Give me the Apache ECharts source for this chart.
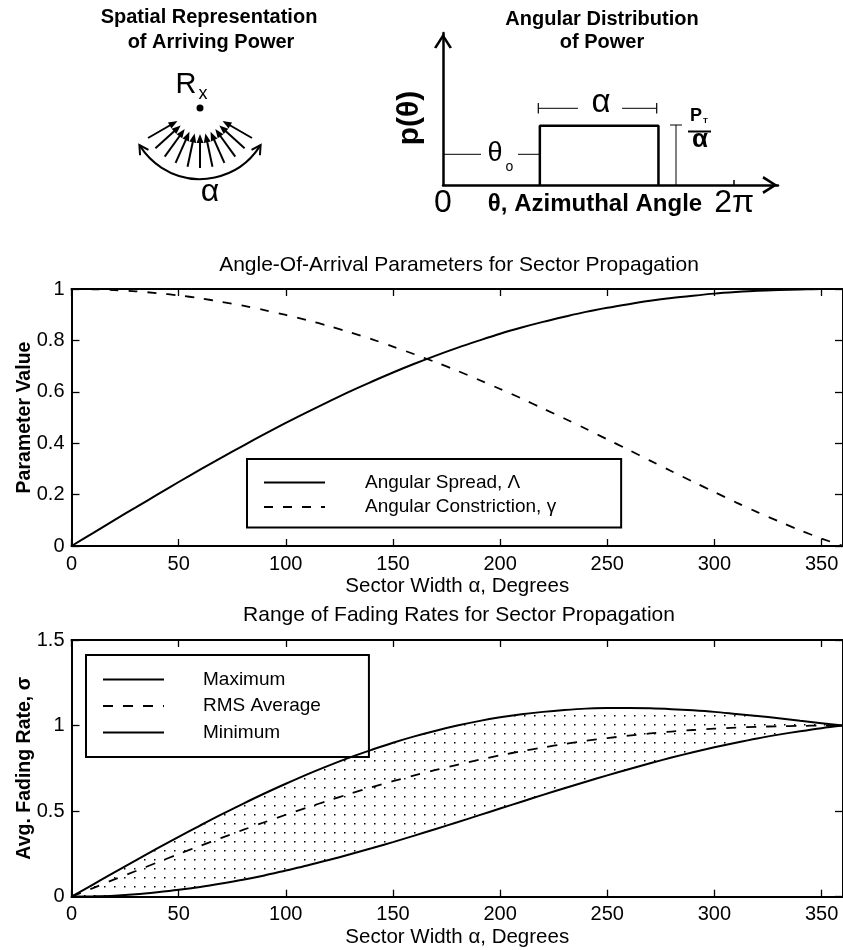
<!DOCTYPE html>
<html>
<head>
<meta charset="utf-8">
<script src="https://cdn.jsdelivr.net/npm/echarts@6/dist/echarts.min.js"></script>
<style>html,body{margin:0;padding:0;background:#fff}#c{width:843px;height:950px}</style>
</head>
<body>
<div id="c"></div>
<script>
const FONT = 'Liberation Sans, Arial, Helvetica, sans-serif';

// ---- data ----
const sectorWidth = [0,10,20,30,40,50,60,70,80,90,100,110,120,130,140,150,160,170,180,190,200,210,220,230,240,250,260,270,280,290,300,310,320,330,340,350,360];
const angularSpread = [0,0.050,0.101,0.150,0.200,0.249,0.297,0.344,0.390,0.435,0.479,0.521,0.562,0.602,0.639,0.675,0.709,0.741,0.771,0.799,0.826,0.850,0.872,0.892,0.911,0.927,0.941,0.954,0.965,0.974,0.982,0.988,0.993,0.996,0.998,1.000,1.000];
const angularConstriction = [1.000,0.999,0.996,0.991,0.984,0.975,0.964,0.950,0.935,0.918,0.899,0.879,0.856,0.831,0.805,0.776,0.746,0.715,0.682,0.647,0.611,0.574,0.535,0.496,0.456,0.415,0.374,0.332,0.291,0.250,0.210,0.170,0.132,0.096,0.061,0.029,0.000];
const fadeMax = [0,0.071,0.142,0.212,0.282,0.349,0.416,0.481,0.543,0.603,0.660,0.715,0.766,0.814,0.858,0.900,0.937,0.970,1.000,1.026,1.048,1.066,1.080,1.091,1.099,1.102,1.103,1.101,1.096,1.089,1.080,1.068,1.056,1.043,1.028,1.014,1.000];
const fadeRms = [0,0.050,0.101,0.150,0.200,0.249,0.297,0.344,0.390,0.435,0.479,0.521,0.562,0.602,0.639,0.675,0.709,0.741,0.771,0.799,0.826,0.850,0.872,0.892,0.911,0.927,0.941,0.954,0.965,0.974,0.982,0.988,0.993,0.996,0.998,1.000,1.000];
const fadeMin = [0,0.002,0.006,0.014,0.026,0.040,0.057,0.077,0.099,0.124,0.153,0.182,0.214,0.248,0.283,0.319,0.357,0.396,0.435,0.475,0.515,0.555,0.595,0.634,0.672,0.709,0.745,0.780,0.813,0.844,0.873,0.900,0.925,0.947,0.967,0.985,1.000];

// schematic p(theta): uniform sector (theta in radians, relative height)
const pdfTheta = [2.09, 2.09, 4.65, 4.65];
const pdfValue = [0, 0.39, 0.39, 0];
const pdfTickValues = [6.2832];
const pdfTickLabels = ['0', '2π'];

const xRange = [0, 360];
const xStep = 50;
const yRange1 = [0, 1];
const yStep1 = 0.2;
const yRange2 = [0, 1.5];
const yStep2 = 0.5;

const pairs = (xs, ys) => xs.map((x, i) => [x, ys[i]]);

// stipple pattern for the band
const pc = document.createElement('canvas');
pc.width = 10; pc.height = 9;
const pctx = pc.getContext('2d');
pctx.fillStyle = '#fff';
pctx.fillRect(0, 0, 10, 9);
pctx.fillStyle = '#000';
pctx.fillRect(4, 4, 1.5, 1.5);

function xAx(grid, pos, labels, name) {
  return {
    type: 'value', gridIndex: grid, position: pos, min: xRange[0], max: xRange[1], interval: xStep,
    axisLine: { show: true, onZero: false, lineStyle: { color: '#000', width: 2 } },
    axisTick: { show: true, inside: true, length: 7, lineStyle: { color: '#000', width: 1.3 } },
    axisLabel: { show: labels, color: '#000', fontSize: 20, fontFamily: FONT, margin: 8, showMaxLabel: false },
    splitLine: { show: false },
    name: labels ? name : '', nameLocation: 'middle', nameGap: 30, nameMoveOverlap: false,
    nameTextStyle: { color: '#000', fontSize: 20.5, fontFamily: FONT }
  };
}
function yAx(grid, pos, labels, range, step, name) {
  return {
    type: 'value', gridIndex: grid, position: pos, min: range[0], max: range[1], interval: step,
    axisLine: { show: true, onZero: false, lineStyle: { color: '#000', width: 2 } },
    axisTick: { show: true, inside: true, length: 8, lineStyle: { color: '#000', width: 1.3 } },
    axisLabel: { show: labels, color: '#000', fontSize: 20, fontFamily: FONT, margin: 7 },
    splitLine: { show: false },
    name: labels ? name : '', nameLocation: 'middle', nameGap: 37, nameMoveOverlap: false,
    nameTextStyle: { color: '#000', fontSize: 19.5, fontWeight: 'bold', fontFamily: FONT }
  };
}

const ARROW = 'path://M0,14 L9,0 L18,14 L15.6,15.2 L9,4.6 L2.4,15.2 Z';

// ---- decorative schematic drawings (graphic) ----
const g = [];
function txt(x, y, text, size, bold, rot) {
  g.push({ type: 'text', x: x, y: y, rotation: rot || 0, z: 100,
    style: { text: text, fontSize: size, fontFamily: FONT, fontWeight: bold ? 'bold' : 'normal', fill: '#000',
      align: 'center', verticalAlign: 'middle', textAlign: 'center', textVerticalAlign: 'middle' } });
}
function ln(x1, y1, x2, y2, w) {
  g.push({ type: 'line', z: 100, shape: { x1: x1, y1: y1, x2: x2, y2: y2 }, style: { stroke: '#000', lineWidth: w } });
}
// left panel
txt(209, 17, 'Spatial Representation', 20, true);
txt(211, 42, 'of Arriving Power', 20, true);
txt(186, 85, 'R', 29, false);
txt(203, 94, 'x', 18, false);
g.push({ type: 'circle', z: 100, shape: { cx: 200, cy: 108, r: 3.5 }, style: { fill: '#000' } });
const cx = 200, cy = 108;
for (let i = 0; i < 11; i++) {
  const a = (-60 + 12 * i) * Math.PI / 180;
  const dx = Math.sin(a), dy = Math.cos(a);
  const px = Math.cos(a), py = -Math.sin(a);
  ln(cx + 60 * dx, cy + 60 * dy, cx + 34 * dx, cy + 34 * dy, 2);
  const tx = cx + 26 * dx, ty = cy + 26 * dy, bx = cx + 35 * dx, by = cy + 35 * dy;
  g.push({ type: 'polygon', z: 100, shape: { points: [[tx, ty], [bx + 3.5 * px, by + 3.5 * py], [bx - 3.5 * px, by - 3.5 * py]] }, style: { fill: '#000' } });
}
const R = 71, half = 57 * Math.PI / 180;
g.push({ type: 'arc', z: 100, shape: { cx: cx, cy: cy, r: R, startAngle: Math.PI / 2 - half, endAngle: Math.PI / 2 + half, clockwise: true }, style: { stroke: '#000', fill: null, lineWidth: 2 } });
[Math.PI / 2 + half, Math.PI / 2 - half].forEach((phi, k) => {
  const P = [cx + R * Math.cos(phi), cy + R * Math.sin(phi)];
  const t = k === 0 ? [-Math.sin(phi), Math.cos(phi)] : [Math.sin(phi), -Math.cos(phi)];
  const n = [Math.cos(phi), Math.sin(phi)];
  const tip = [P[0] + 2 * t[0], P[1] + 2 * t[1]];
  g.push({ type: 'polyline', z: 100, shape: { points: [
    [tip[0] - 9 * t[0] + 5 * n[0], tip[1] - 9 * t[1] + 5 * n[1]], tip,
    [tip[0] - 9 * t[0] - 5 * n[0], tip[1] - 9 * t[1] - 5 * n[1]]] }, style: { stroke: '#000', lineWidth: 2, fill: null } });
});
txt(210, 192, 'α', 32, false);
// right panel annotations
txt(602, 19, 'Angular Distribution', 20, true);
txt(602, 42, 'of Power', 20, true);
txt(410, 118, 'p(θ)', 30, true, Math.PI / 2);
ln(443, 154.3, 481, 154.3, 1);
ln(518, 154.3, 540, 154.3, 1);
txt(495, 154, 'θ', 27, false);
txt(509.5, 167.5, 'o', 14, false);
ln(538.3, 103, 538.3, 113.5, 1.2);
ln(656.7, 103, 656.7, 113.5, 1.2);
ln(538.3, 108.3, 578, 108.3, 1);
ln(622, 108.3, 656.7, 108.3, 1);
txt(601, 103, 'α', 33, false);
ln(676, 125, 676, 185, 1);
ln(670, 125, 682, 125, 1);
txt(696, 116.5, 'P', 18, true);
txt(705.5, 121, 'T', 8, true);
ln(688, 131.5, 711, 131.5, 2);
txt(700, 140, 'α', 26, true);
txt(595, 204, 'θ, Azimuthal Angle', 24, true);

const option = {
  backgroundColor: '#fff',
  animation: false,
  title: [
    { text: 'Angle-Of-Arrival Parameters for Sector Propagation', left: 459, top: 255, textAlign: 'center', padding: 0,
      textStyle: { fontSize: 21, fontWeight: 'normal', color: '#000', fontFamily: FONT } },
    { text: 'Range of Fading Rates for Sector Propagation', left: 459, top: 605, textAlign: 'center', padding: 0,
      textStyle: { fontSize: 21, fontWeight: 'normal', color: '#000', fontFamily: FONT } }
  ],
  legend: [
    { data: ['Angular Spread, Λ', 'Angular Constriction, γ'], orient: 'vertical', left: 247, top: 459,
      padding: [14, 65, 11, 16], itemWidth: 61, itemHeight: 20, itemGap: 5.5,
      borderColor: '#000', borderWidth: 2, backgroundColor: '#fff', borderRadius: 0,
      itemStyle: { opacity: 0 }, selectedMode: false,
      textStyle: { fontSize: 19, color: '#000', fontFamily: FONT, padding: [0, 0, 0, 35] } },
    { data: ['Maximum', 'RMS Average', 'Minimum'], orient: 'vertical', left: 86, top: 655,
      padding: [15, 48, 15, 16], itemWidth: 61, itemHeight: 20, itemGap: 7.5,
      borderColor: '#000', borderWidth: 2, backgroundColor: '#fff', borderRadius: 0,
      itemStyle: { opacity: 0 }, selectedMode: false,
      textStyle: { fontSize: 19, color: '#000', fontFamily: FONT, padding: [0, 0, 0, 34] } }
  ],
  grid: [
    { left: 71.5, top: 289, width: 774.5, height: 257 },
    { left: 71.5, top: 640, width: 774.5, height: 256.7 },
    { left: 443, top: 33, width: 335, height: 152 }
  ],
  xAxis: [
    xAx(0, 'bottom', true, 'Sector Width α, Degrees'),
    xAx(0, 'top', false, ''),
    xAx(1, 'bottom', true, 'Sector Width α, Degrees'),
    xAx(1, 'top', false, ''),
    { type: 'value', gridIndex: 2, min: 0, max: 7.23,
      axisLine: { show: true, onZero: false, lineStyle: { color: '#000', width: 2.5 }, symbol: ['none', ARROW], symbolSize: [18, 16], symbolOffset: [0, -8] },
      axisTick: { show: true, inside: true, length: 5, customValues: pdfTickValues, lineStyle: { color: '#000', width: 1.5 } },
      axisLabel: { show: true, customValues: [0].concat(pdfTickValues), formatter: v => (v < 1 ? pdfTickLabels[0] : pdfTickLabels[1]), fontSize: 32, color: '#000', fontFamily: FONT, margin: 2 },
      splitLine: { show: false } }
  ],
  yAxis: [
    yAx(0, 'left', true, yRange1, yStep1, 'Parameter Value'),
    yAx(0, 'right', false, yRange1, yStep1, ''),
    yAx(1, 'left', true, yRange2, yStep2, 'Avg. Fading Rate, σ'),
    yAx(1, 'right', false, yRange2, yStep2, ''),
    { type: 'value', gridIndex: 2, min: 0, max: 1,
      axisLine: { show: true, onZero: false, lineStyle: { color: '#000', width: 2.5 }, symbol: ['none', ARROW], symbolSize: [18, 16], symbolOffset: [0, -8] },
      axisTick: { show: false }, axisLabel: { show: false }, splitLine: { show: false } }
  ],
  series: [
    { name: 'Angular Spread, Λ', type: 'line', xAxisIndex: 0, yAxisIndex: 0, data: pairs(sectorWidth, angularSpread),
      symbol: 'none', smooth: 0.3, lineStyle: { color: '#000', width: 2 }, itemStyle: { color: '#000' }, silent: true, z: 5 },
    { name: 'Angular Constriction, γ', type: 'line', xAxisIndex: 0, yAxisIndex: 0, data: pairs(sectorWidth, angularConstriction),
      symbol: 'none', smooth: 0.3, lineStyle: { color: '#000', width: 1.8, type: [9, 10] }, itemStyle: { color: '#000' }, silent: true, z: 5 },
    // stippled band: pattern under the maximum curve, then white under the minimum curve
    { name: 'bandTop', type: 'line', xAxisIndex: 2, yAxisIndex: 2, data: pairs(sectorWidth, fadeMax),
      symbol: 'none', smooth: 0.3, lineStyle: { width: 0, opacity: 0 }, areaStyle: { color: { image: pc, repeat: 'repeat' }, opacity: 1 }, silent: true, z: -3 },
    { name: 'bandBottom', type: 'line', xAxisIndex: 2, yAxisIndex: 2, data: pairs(sectorWidth, fadeMin),
      symbol: 'none', smooth: 0.3, lineStyle: { width: 0, opacity: 0 }, areaStyle: { color: '#fff', opacity: 1 }, silent: true, z: -2 },
    { name: 'Maximum', type: 'line', xAxisIndex: 2, yAxisIndex: 2, data: pairs(sectorWidth, fadeMax),
      symbol: 'none', smooth: 0.3, lineStyle: { color: '#000', width: 2 }, itemStyle: { color: '#000' }, silent: true, z: 5 },
    { name: 'RMS Average', type: 'line', xAxisIndex: 2, yAxisIndex: 2, data: pairs(sectorWidth, fadeRms),
      symbol: 'none', smooth: 0.3, lineStyle: { color: '#000', width: 1.8, type: [10, 10] }, itemStyle: { color: '#000' }, silent: true, z: 5 },
    { name: 'Minimum', type: 'line', xAxisIndex: 2, yAxisIndex: 2, data: pairs(sectorWidth, fadeMin),
      symbol: 'none', smooth: 0.3, lineStyle: { color: '#000', width: 2 }, itemStyle: { color: '#000' }, silent: true, z: 5 },
    { name: 'p(θ)', type: 'line', xAxisIndex: 4, yAxisIndex: 4, data: pairs(pdfTheta, pdfValue),
      symbol: 'none', lineStyle: { color: '#000', width: 2.5 }, silent: true, z: 5 }
  ],
  graphic: g
};
const chart = echarts.init(document.getElementById('c'), null, { renderer: 'canvas' });
chart.setOption(option);
</script>
</body>
</html>
